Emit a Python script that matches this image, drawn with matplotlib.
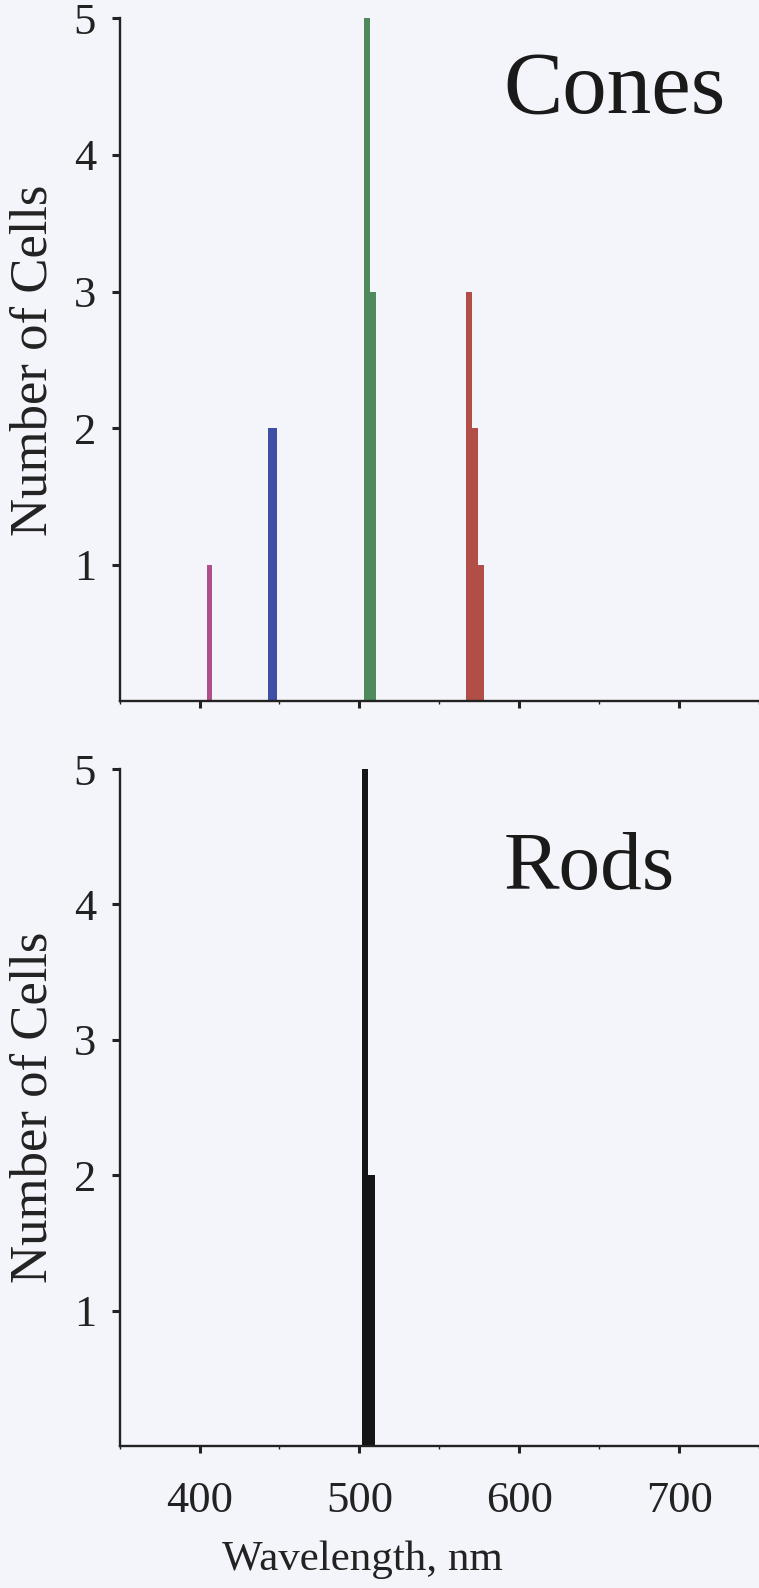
import numpy as np
import matplotlib
matplotlib.use("Agg")
import matplotlib.pyplot as plt
from matplotlib.ticker import MultipleLocator

plt.rcParams['font.family'] = ['Liberation Serif', 'DejaVu Serif']

# ---- data (wavelength bin edges in nm, counts of cells) ----
violet_edges = [404.6, 407.7]
violet_counts = [1]
blue_edges = [442.6, 448.4]
blue_counts = [2]
green_edges = [503.1, 506.6, 510.3]
green_counts = [5, 3]
red_edges = [567.0, 570.2, 573.9, 577.7]
red_counts = [3, 2, 1]
rod_edges = [501.7, 505.2, 510.0]
rod_counts = [5, 2]

x_ticks = [400, 500, 600, 700]
y_ticks = [1, 2, 3, 4, 5]

bg = '#f4f4fb'
fig = plt.figure(figsize=(7.59, 15.88), dpi=100, facecolor=bg)

ax1 = fig.add_axes([0.1576, 0.5583, 0.8424, 0.4302])
ax2 = fig.add_axes([0.1576, 0.0894, 0.8424, 0.4263])


def hist(ax, edges, counts, color):
    e = np.asarray(edges, dtype=float)
    ax.bar(e[:-1], counts, width=np.diff(e), align='edge', color=color,
           linewidth=0)


hist(ax1, violet_edges, violet_counts, '#b0508a')
hist(ax1, blue_edges, blue_counts, '#3e50a6')
hist(ax1, green_edges, green_counts, '#4f8a5c')
hist(ax1, red_edges, red_counts, '#b24e48')
hist(ax2, rod_edges, rod_counts, '#151515')

for ax, title, ty, tsize in [(ax1, 'Cones', 91, 64), (ax2, 'Rods', 869, 60)]:
    ax.set_facecolor(bg)
    ax.set_xlim(350, 750)
    ax.set_ylim(0, 5)
    ax.spines['top'].set_visible(False)
    ax.spines['right'].set_visible(False)
    ax.spines['left'].set_linewidth(1.7)
    ax.spines['bottom'].set_linewidth(1.7)
    ax.spines['left'].set_color('#222222')
    ax.spines['bottom'].set_color('#222222')
    ax.set_xticks(x_ticks)
    ax.xaxis.set_minor_locator(MultipleLocator(50))
    ax.set_yticks(y_ticks)
    ax.tick_params(axis='y', direction='out', length=6, width=2.2,
                   labelsize=32, pad=11, colors='#222222')
    ax.tick_params(axis='x', which='major', direction='out', length=5,
                   width=2.2, labelsize=32, pad=20, colors='#222222')
    ax.tick_params(axis='x', which='minor', direction='out', length=2,
                   width=1.0, colors='#222222')
    ax.set_ylabel('Number of Cells', fontsize=38, color='#222222')
    ax.yaxis.set_label_coords(-0.097, 0.5)
    fig.text(503.7 / 759, 1 - ty / 1588, title, fontsize=tsize,
             ha='left', va='center', color='#1a1a1a')

ax1.tick_params(axis='x', labelbottom=False)
ax2.set_xlabel('Wavelength, nm', fontsize=31, color='#222222')
ax2.xaxis.set_label_coords(0.38, -0.14)

fig.savefig('out.png', dpi=100, facecolor=bg)
